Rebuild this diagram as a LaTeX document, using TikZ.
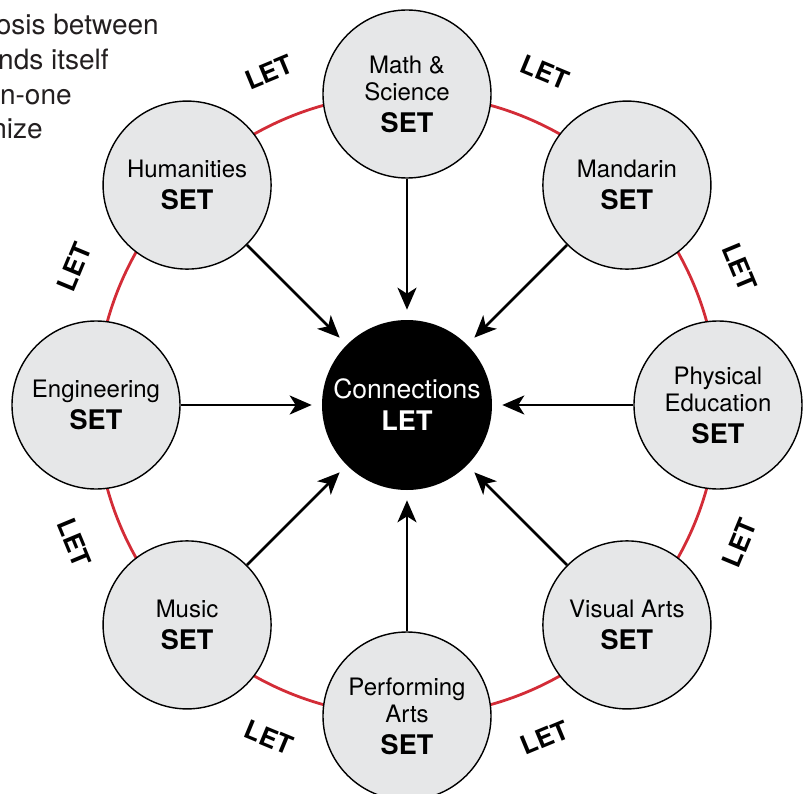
\documentclass[tikz,border=0pt]{standalone}
\usepackage{fontspec}
\setmainfont{TeX Gyre Heros}
\usetikzlibrary{positioning, arrows, arrows.meta}
\definecolor{setgrey}{RGB}{230,231,232}
\definecolor{letred}{RGB}{211,44,55}
\definecolor{prosegrey}{RGB}{35,31,32}
\newcommand{\setword}{{\fontsize{27}{27}\selectfont\bfseries SET}}

\begin{document}
\begin{tikzpicture}[semithick]
    \tikzstyle{subject}=[
        circle,
        draw = black,
        line width = 1.4pt,
        fill = setgrey,
        inner sep = 0pt,
        minimum size = 168pt,
        align = center,
        font = \fontsize{24}{27}\selectfont
    ]
    \tikzstyle{hub}=[
        circle,
        fill = black,
        text = white,
        inner sep = 0pt,
        minimum size = 170pt,
        align = center,
        font = \fontsize{26.5}{28}\selectfont
    ]
    \tikzstyle{letlabel}=[
        inner sep = 0pt,
        font = \fontsize{26}{28}\selectfont\bfseries
    ]
    \tikzstyle{prose}=[
        inner sep = 0pt,
        anchor = base east,
        text = prosegrey,
        font = \fontsize{28}{34}\selectfont
    ]
    \useasboundingbox (-407pt,-388pt) rectangle (401pt,405pt);
    \node (prose1) [prose] at (-248pt,370pt) {osis between};
    \node (prose2) [prose] at (-298pt,335pt) {nds itself};
    \node (prose3) [prose] at (-335pt,300pt) {n-one};
    \node (prose4) [prose] at (-364pt,266pt) {nize};
    \draw[letred, line width=2.8pt] (0pt,0pt) circle (311pt);
    \node (hub) [hub] at (0pt,0pt) {Connections\\[4pt]{\fontsize{27}{28}\selectfont\bfseries LET}};
    \begin{scope}[every node/.style=subject]
      \node (math) at (90:311pt) {Math \&\\Science\\[5pt]\setword};
      \node (mandarin) at (45:311pt) {Mandarin\\[5pt]\setword};
      \node (pe) at (0:311pt) {Physical\\Education\\[5pt]\setword};
      \node (visual) at (-45:311pt) {Visual Arts\\[5pt]\setword};
      \node (performing) at (-90:311pt) {Performing\\Arts\\[5pt]\setword};
      \node (music) at (-135:311pt) {Music\\[5pt]\setword};
      \node (engineering) at (180:311pt) {Engineering\\[5pt]\setword};
      \node (humanities) at (135:311pt) {Humanities\\[5pt]\setword};
    \end{scope}
    \begin{scope}[every node/.style=letlabel]
      \node (let1) [rotate=-22.5] at (67.5:360pt) {LET};
      \node (let2) [rotate=22.5] at (112.5:360pt) {LET};
      \node (let3) [rotate=67.5] at (157.5:360pt) {LET};
      \node (let4) [rotate=-67.5] at (202.5:360pt) {LET};
      \node (let5) [rotate=-22.5] at (247.5:360pt) {LET};
      \node (let6) [rotate=22.5] at (292.5:360pt) {LET};
      \node (let7) [rotate=67.5] at (337.5:360pt) {LET};
      \node (let8) [rotate=-67.5] at (22.5:360pt) {LET};
    \end{scope}
    \path[-{Stealth[length=22pt, width=19pt, inset=6pt]}, line width=2.6pt, shorten >=10pt]
             (math) edge (hub)
             (mandarin) edge (hub)
             (pe) edge (hub)
             (visual) edge (hub)
             (performing) edge (hub)
             (music) edge (hub)
             (engineering) edge (hub)
             (humanities) edge (hub);
\end{tikzpicture}
\end{document}
